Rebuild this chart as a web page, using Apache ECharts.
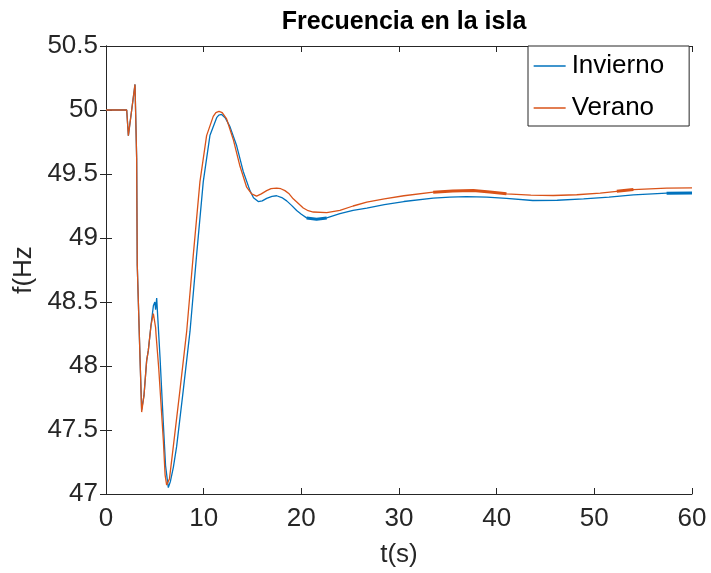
<!DOCTYPE html>
<html>
<head>
<meta charset="utf-8">
<script src="https://cdn.jsdelivr.net/npm/echarts@6/dist/echarts.min.js"></script>
<style>
  html, body { margin: 0; padding: 0; background: #fff; }
  #chart { width: 711px; height: 573px; }
</style>
</head>
<body>
<div id="chart"></div>
<script>
// Island frequency after the disturbance, winter vs summer case
const tInv = [0, 2.12, 2.29, 2.63, 2.97, 3.14, 3.2, 3.48, 3.65, 3.89, 4.16, 4.33, 4.61, 4.85, 5.0, 5.08, 5.19, 5.3, 5.53, 5.87, 6.1, 6.38, 6.6, 6.9, 7.23, 7.91, 8.6, 9.28, 9.96, 10.64, 11.33, 11.55, 11.84, 12.2, 12.69, 13.38, 14.05, 14.74, 15.1, 15.59, 16.0, 16.45, 17.0, 17.47, 18.0, 18.5, 19.0, 19.52, 20.0, 20.54, 21.56, 22.6, 23.95, 25.3, 26.7, 28.5, 30.5, 33.5, 35.2, 36.9, 39, 41, 43.7, 46.2, 48.9, 51.5, 54, 57.4, 60];
const fInv = [50, 50, 49.80, 50.0, 50.20, 49.62, 48.79, 48.07, 47.66, 47.77, 48.04, 48.12, 48.32, 48.47, 48.50, 48.44, 48.53, 48.38, 48.07, 47.55, 47.22, 47.05, 47.10, 47.21, 47.37, 47.81, 48.27, 48.87, 49.44, 49.80, 49.94, 49.96, 49.965, 49.94, 49.87, 49.72, 49.52, 49.37, 49.315, 49.285, 49.29, 49.31, 49.326, 49.33, 49.316, 49.29, 49.255, 49.215, 49.185, 49.157, 49.146, 49.157, 49.19, 49.215, 49.234, 49.26, 49.285, 49.312, 49.32, 49.324, 49.32, 49.31, 49.293, 49.295, 49.306, 49.32, 49.337, 49.35, 49.352];

const tVer = [0, 2.12, 2.29, 2.63, 2.97, 3.14, 3.2, 3.48, 3.65, 3.89, 4.16, 4.33, 4.61, 4.85, 5.02, 5.08, 5.12, 5.4, 5.87, 6.05, 6.21, 6.5, 6.89, 7.57, 8.26, 8.94, 9.62, 10.3, 10.98, 11.25, 11.57, 11.9, 12.35, 13.03, 13.72, 14.4, 14.91, 15.42, 15.9, 16.45, 16.9, 17.47, 17.9, 18.32, 18.75, 19.17, 20.2, 20.7, 21.22, 22.6, 23.95, 25.3, 26.7, 28.5, 30.5, 33.5, 35.5, 37.6, 39.3, 41, 43.5, 45.8, 48.2, 50.6, 52.3, 54, 57.4, 60];
const fVer = [50, 50, 49.80, 50.0, 50.20, 49.62, 48.79, 48.07, 47.64, 47.77, 48.04, 48.12, 48.32, 48.41, 48.40, 48.30, 48.25, 47.98, 47.42, 47.15, 47.07, 47.12, 47.37, 47.81, 48.27, 48.87, 49.44, 49.80, 49.95, 49.98, 49.99, 49.98, 49.93, 49.77, 49.56, 49.397, 49.345, 49.327, 49.345, 49.37, 49.385, 49.39, 49.385, 49.37, 49.345, 49.306, 49.234, 49.213, 49.203, 49.198, 49.216, 49.25, 49.28, 49.305, 49.33, 49.358, 49.368, 49.371, 49.36, 49.345, 49.335, 49.332, 49.338, 49.35, 49.365, 49.378, 49.39, 49.392];

// Stretches where the simulated signal carries fine ripple (drawn as a thicker trace)
const rippleInv = [[20.54, 22.6], [57.4, 60]];
const rippleVer = [[33.5, 41], [52.3, 54]];

const seriesNames = ['Invierno', 'Verano'];
const xTicks = [0, 10, 20, 30, 40, 50, 60];
const yTicks = [47, 47.5, 48, 48.5, 49, 49.5, 50, 50.5];

const BLUE = '#0072BD';
const ORANGE = '#D95319';
const AXIS = '#262626';
const FONT = '"Liberation Sans", Arial, Helvetica, sans-serif';

const pairs = (t, f) => t.map((v, i) => [v, f[i]]);
const within = (t, f, ranges) => ranges.map(([a, b]) =>
  pairs(t, f).filter(p => p[0] >= a && p[0] <= b));

const dataInv = pairs(tInv, fInv);
const dataVer = pairs(tVer, fVer);

function rippleSeries(t, f, ranges, color, tag, z) {
  return within(t, f, ranges).map((d, k) => ({
    name: tag + k,
    type: 'line',
    data: d,
    symbol: 'none',
    silent: true,
    lineStyle: { color: color, width: 3 },
    z: z
  }));
}

const chart = echarts.init(document.getElementById('chart'), null, { renderer: 'canvas' });

const axisCommon = {
  axisLine: { show: true, lineStyle: { color: AXIS, width: 1 } },
  axisTick: { show: true, inside: true, length: 6, lineStyle: { color: AXIS } },
  splitLine: { show: false }
};

chart.setOption({
  animation: false,
  backgroundColor: '#fff',
  title: {
    text: 'Frecuencia en la isla',
    left: 399,
    top: 5,
    textAlign: 'center',
    textStyle: { fontFamily: FONT, fontSize: 25, fontWeight: 'bold', color: '#000' }
  },
  grid: { left: 106, top: 46, right: 19, bottom: 75 },
  legend: {
    data: seriesNames,
    orient: 'vertical',
    left: 528,
    top: 46,
    padding: [7, 25, 5, 5],
    itemGap: 16,
    itemWidth: 32,
    itemHeight: 26,
    backgroundColor: '#fff',
    borderColor: AXIS,
    borderWidth: 1,
    borderRadius: 0,
    itemStyle: { opacity: 0 },
    lineStyle: { width: 1.3 },
    textStyle: { fontFamily: FONT, fontSize: 26, color: '#000', padding: [0, 0, 0, 1] }
  },
  xAxis: [
    Object.assign({
      type: 'value', min: 0, max: 60, interval: 10, position: 'bottom',
      name: 't(s)', nameLocation: 'middle', nameGap: 48,
      nameTextStyle: { fontFamily: FONT, fontSize: 26, color: AXIS },
      axisLabel: {
        fontFamily: FONT, fontSize: 26, color: AXIS, margin: 12,
        formatter: v => xTicks.includes(v) ? String(v) : ''
      }
    }, axisCommon),
    Object.assign({
      type: 'value', min: 0, max: 60, interval: 10, position: 'top',
      axisLabel: { show: false }
    }, axisCommon)
  ],
  yAxis: [
    Object.assign({
      type: 'value', min: 47, max: 50.5, interval: 0.5, position: 'left',
      name: 'f(Hz', nameLocation: 'middle', nameGap: 67, nameRotate: 90,
      nameTextStyle: { fontFamily: FONT, fontSize: 26, color: AXIS },
      axisLabel: {
        fontFamily: FONT, fontSize: 26, color: AXIS, margin: 8,
        formatter: v => yTicks.includes(v) ? String(v) : ''
      }
    }, axisCommon),
    Object.assign({
      type: 'value', min: 47, max: 50.5, interval: 0.5, position: 'right',
      axisLabel: { show: false }
    }, axisCommon)
  ],
  series: [
    {
      name: seriesNames[0], type: 'line', data: dataInv, symbol: 'none',
      lineStyle: { color: BLUE, width: 1.3 }, itemStyle: { color: BLUE }, z: 2
    },
    ...rippleSeries(tInv, fInv, rippleInv, BLUE, 'rInv', 3),
    {
      name: seriesNames[1], type: 'line', data: dataVer, symbol: 'none',
      lineStyle: { color: ORANGE, width: 1.3 }, itemStyle: { color: ORANGE }, z: 4
    },
    ...rippleSeries(tVer, fVer, rippleVer, ORANGE, 'rVer', 5)
  ]
});
</script>
</body>
</html>
